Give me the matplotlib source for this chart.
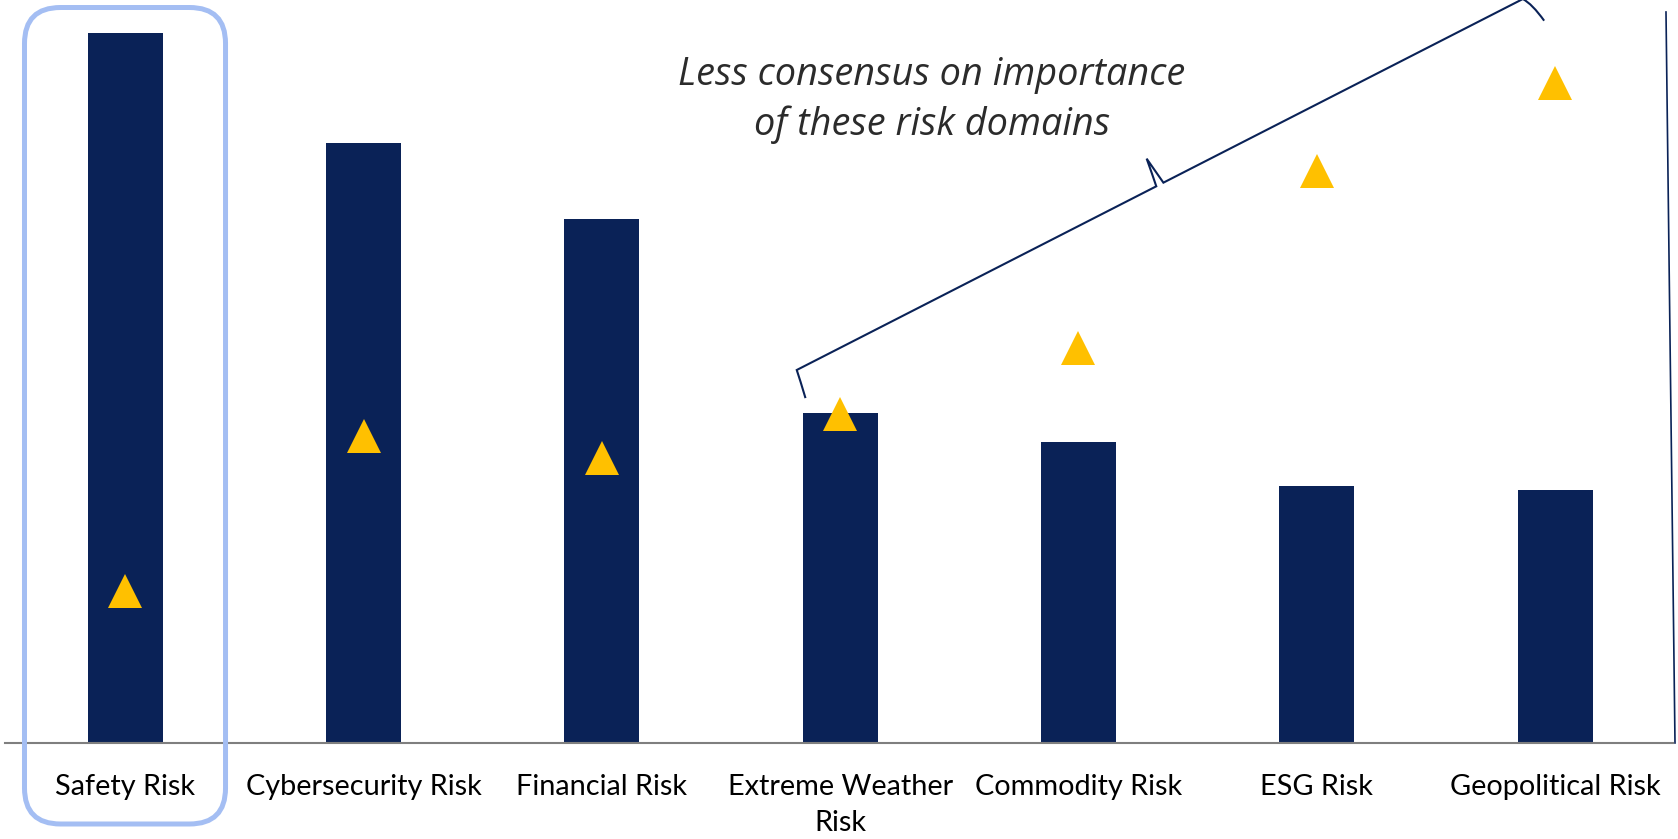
import matplotlib

matplotlib.use("Agg")
import matplotlib.pyplot as plt
import numpy as np
from matplotlib.lines import Line2D
from matplotlib.patches import FancyBboxPatch, PathPatch
from matplotlib.path import Path
from matplotlib.transforms import IdentityTransform

categories = [
    "Safety Risk",
    "Cybersecurity Risk",
    "Financial Risk",
    "Extreme Weather\nRisk",
    "Commodity Risk",
    "ESG Risk",
    "Geopolitical Risk",
]
importance = [7.10, 6.00, 5.24, 3.30, 3.01, 2.57, 2.53]
disagreement = [1.52, 3.07, 2.85, 3.29, 3.95, 5.72, 6.60]
note = "Less consensus on importance\nof these risk domains"

NAVY = "#0A2257"
GOLD = "#FFC000"
HIGHLIGHT = "#A4BEF3"


def draw_brace(ax, p0, p1, depth=29, color=NAVY, lw=1.5):
    # curly brace between two data points, built in pixel space so it keeps its shape
    a = ax.transData.transform(p0)
    b = ax.transData.transform(p1)
    d = b - a
    length = np.hypot(*d)
    u = d / length
    n = np.array([-u[1], u[0]])
    m = length / 2

    def pt(s, t):
        return a + s * u + t * n

    verts = [
        pt(-5, -depth), pt(-1.5, -depth * 0.35), pt(0, 0),
        pt(m - 4.5, 0), pt(m - 2.5, depth * 0.45), pt(m - 0.5, depth),
        pt(m + 1.5, depth * 0.5), pt(m + 3.5, 0),
        pt(length, 0), pt(length + 5, -depth * 0.3), pt(length + 8, -depth),
    ]
    codes = [
        Path.MOVETO, Path.CURVE3, Path.CURVE3,
        Path.LINETO, Path.CURVE3, Path.CURVE3,
        Path.CURVE3, Path.CURVE3,
        Path.LINETO, Path.CURVE3, Path.CURVE3,
    ]
    patch = PathPatch(Path(verts, codes), transform=IdentityTransform(), fill=False,
                      edgecolor=color, lw=lw, clip_on=False, zorder=4)
    ax.add_artist(patch)


fig = plt.figure(figsize=(16.78, 8.39), dpi=100)
ax = fig.add_axes([5 / 1678, 96 / 839, 1668 / 1678, 731 / 839])

x = np.arange(len(categories))
ax.bar(x, importance, width=0.315, color=NAVY, zorder=2)
ax.plot(x, disagreement, linestyle="none", marker="^", markersize=24.5,
        color=GOLD, markeredgewidth=0, zorder=3)

ax.set_xlim(-0.5044, 6.495)
ax.set_ylim(0, 7.31)
ax.set_yticks([])
ax.set_xticks(x, categories)
ax.tick_params(axis="x", length=0, pad=22, labelsize=20.8)
for lbl in ax.get_xticklabels():
    lbl.set_fontfamily("Lato")
    lbl.set_linespacing(1.5)

for side in ("top", "left", "right"):
    ax.spines[side].set_visible(False)
ax.spines["bottom"].set_color("#7F7F7F")
ax.spines["bottom"].set_linewidth(1.5)

# right-hand rule, leaning slightly outward at the bottom
ax.add_line(Line2D([0.9958, 1.0012], [1.0, 0.0], transform=ax.transAxes,
                   color=NAVY, lw=1.2, clip_on=False))

ax.text(3.386, 6.43, note, ha="center", va="center", fontsize=27.3, style="italic",
        family="Open Sans", color="#2B2B2B", linespacing=1.4)

draw_brace(ax, (2.818, 3.73), (5.869, 7.445))

# rounded highlight around the first category
(x0, y0), (x1, y1) = ax.transData.transform([(-0.4226, -0.81), (0.421, 7.355)])
box = FancyBboxPatch((x0, y0), x1 - x0, y1 - y0, boxstyle="round,pad=0,rounding_size=36",
                     transform=IdentityTransform(), fill=False, edgecolor=HIGHLIGHT,
                     lw=3.6, clip_on=False, zorder=5)
ax.add_artist(box)

fig.savefig("out.png", dpi=100)
plt.close(fig)
